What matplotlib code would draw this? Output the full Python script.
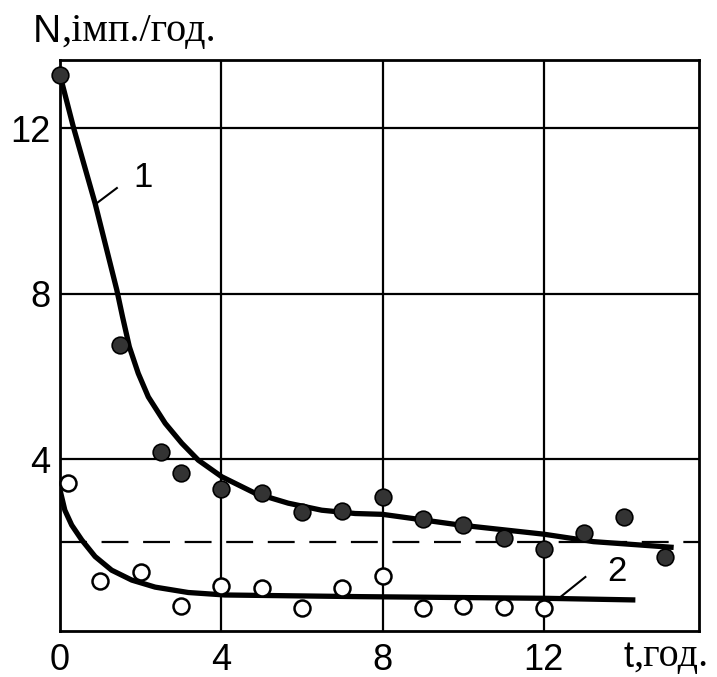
import numpy as np
import matplotlib
matplotlib.use("Agg")
import matplotlib.pyplot as plt

# measured points, series 1 (filled) and 2 (open)
t1 = [0, 1.5, 2.5, 3, 4, 5, 6, 7, 8, 9, 10, 11, 12, 13, 14, 15]
n1 = [13.29, 6.77, 4.17, 3.67, 3.28, 3.19, 2.73, 2.75, 3.09, 2.56, 2.41,
      2.10, 1.83, 2.22, 2.61, 1.64]
t2 = [0.2, 1, 2, 3, 4, 5, 6, 7, 8, 9, 10, 11, 12]
n2 = [3.43, 1.06, 1.28, 0.45, 0.94, 0.89, 0.41, 0.89, 1.18, 0.41, 0.45,
      0.43, 0.41]

# fitted curves
c1_t = [0, 0.33, 0.87, 1.41, 1.55, 1.72, 1.94, 2.19, 2.61, 3.02, 3.43, 4.01,
        4.84, 5.66, 6.49, 7.32, 8.0, 9.93, 12.0, 13.23, 15.22]
c1_n = [13.29, 12.04, 10.19, 8.09, 7.45, 6.72, 6.08, 5.51, 4.87, 4.39, 3.98,
        3.58, 3.18, 2.94, 2.77, 2.69, 2.67, 2.41, 2.19, 2.01, 1.87]
c2_t = [0, 0.12, 0.29, 0.54, 0.87, 1.28, 1.78, 2.36, 3.18, 4.09, 7.44,
        12.02, 14.27]
c2_n = [3.26, 2.77, 2.41, 2.05, 1.65, 1.32, 1.08, 0.91, 0.78, 0.72, 0.68,
        0.64, 0.60]

background_level = 2.0
xticks = [0, 4, 8, 12]
yticks = [4, 8, 12]

fig = plt.figure(figsize=(7.17, 6.77), dpi=100)
ax = fig.add_axes([0.0837, 0.068, 0.8913, 0.843])

ax.set_xlim(0, 15.85)
ax.set_ylim(-0.15, 13.65)

for x in xticks[1:]:
    ax.axvline(x, color="black", lw=1.6, zorder=1)
for y in yticks:
    ax.axhline(y, color="black", lw=1.6, zorder=1)
ax.axhline(background_level, color="black", lw=1.6,
           ls=(0, (12.1, 6.6)), zorder=1)

ax.plot(c1_t, c1_n, color="black", lw=3.8, solid_joinstyle="round",
        solid_capstyle="butt", zorder=3)
ax.plot(c2_t, c2_n, color="black", lw=3.8, solid_joinstyle="round",
        solid_capstyle="butt", zorder=3)

ax.plot(t1, n1, "o", ms=12, mfc="#333333", mec="black", mew=1.2, zorder=4,
        clip_on=False)
ax.plot(t2, n2, "o", ms=11.5, mfc="white", mec="black", mew=1.8, zorder=4,
        clip_on=False)

# curve labels with leader lines
ax.plot([1.41, 0.92], [10.56, 10.2], color="black", lw=1.5, zorder=3)
ax.text(2.06, 10.82, "1", fontsize=25, family="Liberation Sans",
        ha="center", va="center")
ax.plot([13.03, 12.41], [1.155, 0.67], color="black", lw=1.5, zorder=3)
ax.text(13.82, 1.28, "2", fontsize=25, family="Liberation Sans",
        ha="center", va="center")

ax.set_xticks(xticks)
ax.set_yticks(yticks)
ax.tick_params(length=0, labelsize=26)
ax.tick_params(axis="x", pad=9)
ax.tick_params(axis="y", pad=7)
for lab in ax.get_xticklabels() + ax.get_yticklabels():
    lab.set_family("Liberation Sans")
for s in ax.spines.values():
    s.set_linewidth(2.0)
    s.set_color("black")

# axis titles: sans letter followed by serif units
tn = fig.text(0.046, 0.938, "N", fontsize=28, family="Liberation Sans",
              va="baseline", ha="left")
ax.annotate(",імп./год.", xy=(1, 0), xycoords=tn, fontsize=29,
            family="Liberation Serif", va="bottom", ha="left")
tt = fig.text(0.869, 0.0148, "t", fontsize=26, family="Liberation Sans",
              va="baseline", ha="left")
ax.annotate(",год.", xy=(1, 0), xycoords=tt, fontsize=29,
            family="Liberation Serif", va="bottom", ha="left")

fig.savefig("out.png", dpi=100)
